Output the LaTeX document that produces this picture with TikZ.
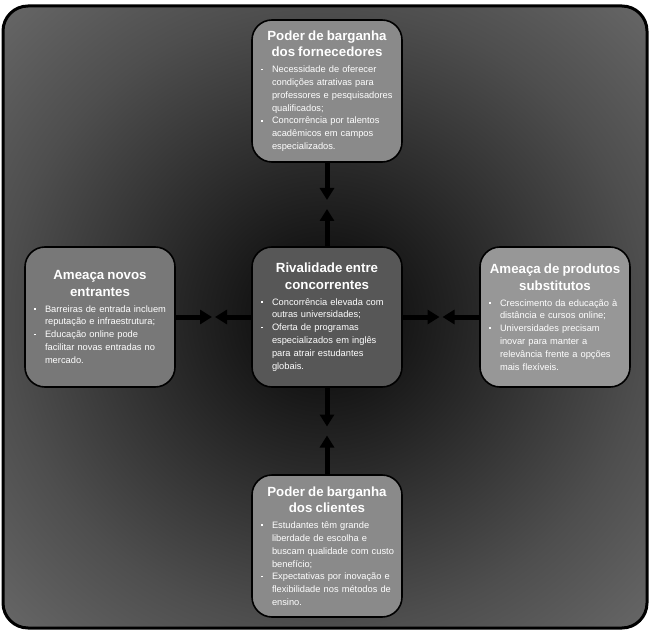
\documentclass[tikz,border=0pt]{standalone}
\usepackage{fontspec}
\setmainfont{Liberation Sans}
\usepackage{enumitem}
\usetikzlibrary{arrows.meta,calc}

\definecolor{fundoin}{HTML}{0E0E0E}
\definecolor{fundomid}{HTML}{4E4E4E}
\definecolor{fundoout}{HTML}{686868}
\definecolor{fornecedorescor}{HTML}{8A8A8A}
\definecolor{entrantescor}{HTML}{787878}
\definecolor{rivalidadecor}{HTML}{575757}
\definecolor{substitutoscor}{HTML}{979797}
\definecolor{clientescor}{HTML}{8A8A8A}

\pgfdeclareradialshading{fundo}{\pgfpoint{0bp}{0bp}}{color(0bp)=(fundoin); color(3bp)=(fundoin); color(25bp)=(fundomid); color(36bp)=(fundoout); color(50bp)=(fundoout)}

\setlist[itemize]{leftmargin=12pt, labelsep=9pt, itemsep=0pt, parsep=0pt, topsep=0pt, partopsep=0pt, label={\rule[2.4pt]{1.8pt}{1.8pt}}}

\newcommand{\forcatitulo}[2]{{\noindent\fontsize{13.3}{16.5}\selectfont\bfseries\makebox[\linewidth]{#1}\par\noindent\makebox[\linewidth]{#2}\par}\vspace{3.2pt}}

\tikzset{
  forcebox/.style={rectangle, draw=black, line width=1.6pt, rounded corners=20pt, text=white, text width=134pt, align=left, inner xsep=8pt, inner ysep=4pt, minimum height=140pt, font=\fontsize{9.3}{12.8}\selectfont},
  forcearrow/.style={-{Triangle[width=14pt,length=12pt]}, line width=5pt, black}
}

\begin{document}
\begin{tikzpicture}[x=1pt, y=-1pt, node distance=227pt]

    \useasboundingbox (0,0) rectangle (650,636);

    % background
    \draw[line width=3pt, rounded corners=25pt, shading=fundo] (3,6) rectangle (647,628);

    % centre: rivalry
    \node (rivalidade) [forcebox, fill=rivalidadecor] at (327,317) {\forcatitulo{Rivalidade entre}{concorrentes}
    \begin{itemize}
    \item Concorrência elevada com\newline outras universidades;
    \item Oferta de programas\newline especializados em inglês\newline para atrair estudantes\newline globais.
    \end{itemize}};

    % the four forces round it
    \node (fornecedores) [forcebox, fill=fornecedorescor, above of=rivalidade, yshift=-1pt, minimum height=142pt] {\forcatitulo{Poder de barganha}{dos fornecedores}
    \begin{itemize}
    \item Necessidade de oferecer\newline condições atrativas para\newline professores e pesquisadores\newline qualificados;
    \item Concorrência por talentos\newline acadêmicos em campos\newline especializados.
    \end{itemize}};

    \node (entrantes) [forcebox, fill=entrantescor, left of=rivalidade] {\forcatitulo{Ameaça novos}{entrantes}
    \begin{itemize}
    \item Barreiras de entrada incluem\newline reputação e infraestrutura;
    \item Educação online pode\newline facilitar novas entradas no\newline mercado.
    \end{itemize}};

    \node (substitutos) [forcebox, fill=substitutoscor, right of=rivalidade, xshift=1pt] {\forcatitulo{Ameaça de produtos}{substitutos}
    \begin{itemize}
    \item Crescimento da educação à\newline distância e cursos online;
    \item Universidades precisam\newline inovar para manter a\newline relevância frente a opções\newline mais flexíveis.
    \end{itemize}};

    \node (clientes) [forcebox, fill=clientescor, below of=rivalidade, yshift=-2pt, minimum height=142pt] {\forcatitulo{Poder de barganha}{dos clientes}
    \begin{itemize}
    \item Estudantes têm grande\newline liberdade de escolha e\newline buscam qualidade com custo\newline benefício;
    \item Expectativas por inovação e\newline flexibilidade nos métodos de\newline ensino.
    \end{itemize}};

    % meeting points between the boxes
    \coordinate (mfornecedores) at ($(fornecedores.south)!0.5!(rivalidade.north)$);
    \coordinate (mentrantes) at ($(entrantes.east)!0.5!(rivalidade.west)$);
    \coordinate (msubstitutos) at ($(substitutos.west)!0.5!(rivalidade.east)$);
    \coordinate (mclientes) at ($(clientes.north)!0.5!(rivalidade.south)$);

    % arrows pointing at each other
    \draw[forcearrow, shorten >=4.5pt] (fornecedores) -- (mfornecedores);
    \draw[forcearrow, shorten >=4.5pt] (rivalidade) -- (mfornecedores);
    \draw[forcearrow, shorten >=1.5pt] (entrantes) -- (mentrantes);
    \draw[forcearrow, shorten >=1.5pt] (rivalidade) -- (mentrantes);
    \draw[forcearrow, shorten >=1.5pt] (substitutos) -- (msubstitutos);
    \draw[forcearrow, shorten >=1.5pt] (rivalidade) -- (msubstitutos);
    \draw[forcearrow, shorten >=4.5pt] (clientes) -- (mclientes);
    \draw[forcearrow, shorten >=4.5pt] (rivalidade) -- (mclientes);

\end{tikzpicture}
\end{document}
